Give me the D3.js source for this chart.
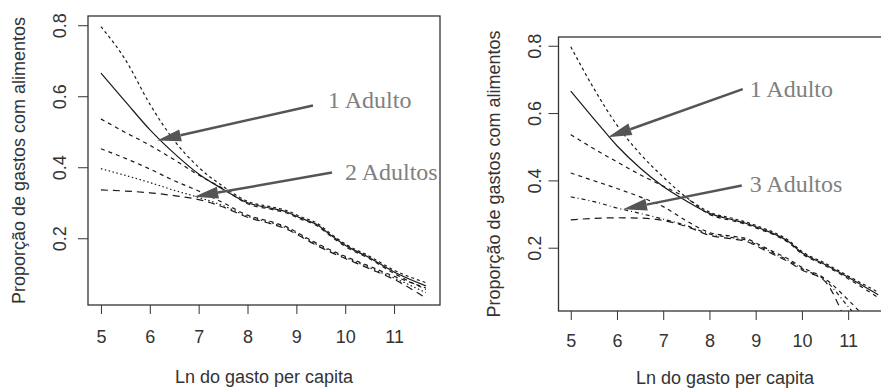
<!DOCTYPE html>
<html>
<head>
<meta charset="utf-8">
<script src="https://cdn.jsdelivr.net/npm/d3@7"></script>
<style>
  body { margin: 0; background: #fff; }
  svg { display: block; }
</style>
</head>
<body>
<div id="chart"></div>
<script>
// eixo x comum (ln do gasto per capita)
const xGrid = [5, 5.5, 6, 6.5, 7, 7.5, 8, 8.5, 8.8, 9.1, 9.4, 9.7, 10, 10.5, 11, 11.65];
const xTicks = [5, 6, 7, 8, 9, 10, 11];
const yTicks = [0.2, 0.4, 0.6, 0.8];

// painel esquerdo: 1 adulto vs 2 adultos
const oneAdultUpperL = [0.796, 0.703, 0.578, 0.475, 0.400, 0.346, 0.304, 0.288, 0.278, 0.260, 0.244, 0.213, 0.184, 0.149, 0.110, 0.075];
const oneAdultL      = [0.665, 0.585, 0.506, 0.439, 0.381, 0.338, 0.300, 0.284, 0.274, 0.256, 0.240, 0.209, 0.180, 0.145, 0.105, 0.066];
const oneAdultLowerL = [0.536, 0.498, 0.462, 0.421, 0.378, 0.340, 0.297, 0.281, 0.271, 0.253, 0.237, 0.206, 0.177, 0.142, 0.101, 0.056];
const twoAdultsUpper = [0.452, 0.425, 0.395, 0.362, 0.333, 0.300, 0.265, 0.246, 0.232, 0.210, 0.187, 0.167, 0.149, 0.121, 0.093, 0.060];
const twoAdults      = [0.396, 0.377, 0.357, 0.335, 0.315, 0.292, 0.262, 0.243, 0.229, 0.207, 0.184, 0.164, 0.146, 0.117, 0.088, 0.047];
const twoAdultsLower = [0.336, 0.333, 0.328, 0.320, 0.309, 0.288, 0.259, 0.240, 0.226, 0.204, 0.181, 0.161, 0.143, 0.114, 0.084, 0.032];

// painel direito: 1 adulto vs 3 adultos
const oneAdultUpperR = [0.797, 0.673, 0.564, 0.479, 0.410, 0.350, 0.306, 0.287, 0.276, 0.261, 0.245, 0.223, 0.189, 0.154, 0.116, 0.068];
const oneAdultR      = [0.665, 0.583, 0.503, 0.437, 0.382, 0.339, 0.302, 0.283, 0.272, 0.257, 0.241, 0.219, 0.185, 0.150, 0.112, 0.060];
const oneAdultLowerR = [0.536, 0.494, 0.455, 0.417, 0.383, 0.348, 0.299, 0.280, 0.269, 0.254, 0.238, 0.216, 0.182, 0.147, 0.108, 0.052];
const threeAdultsUpper = [0.422, 0.399, 0.376, 0.351, 0.322, 0.280, 0.245, 0.234, 0.227, 0.207, 0.187, 0.167, 0.142, 0.108, 0.045, -0.050];
const threeAdults      = [0.351, 0.337, 0.318, 0.302, 0.285, 0.266, 0.241, 0.230, 0.223, 0.203, 0.183, 0.163, 0.138, 0.104, 0.025, -0.080];
const threeAdultsLower = [0.283, 0.287, 0.289, 0.288, 0.281, 0.263, 0.237, 0.226, 0.219, 0.199, 0.179, 0.159, 0.134, 0.100, -0.030, -0.200];

// rotulos das setas: [x e y do texto, x e y da cauda, x e y da ponta]
const labelsL = ["1 Adulto", "2 Adultos"];
const labelPosL = [[9.65, 0.567, 9.34, 0.574, 6.15, 0.475], [9.995, 0.365, 9.73, 0.385, 6.91, 0.317]];
const labelsR = ["1 Adulto", "3 Adultos"];
const labelPosR = [[8.87, 0.649, 8.72, 0.671, 5.80, 0.528], [8.87, 0.365, 8.70, 0.385, 6.13, 0.314]];

const width = 881, height = 388;
const svg = d3.select('#chart').append('svg')
    .attr('width', width)
    .attr('height', height)
    .style('background', '#fff');

const sans = 'Liberation Sans, Arial, Helvetica, sans-serif';
const serif = 'Liberation Serif, Times New Roman, serif';
const ink = '#1a1a1a';

const panels = [
  { id: 'l', left: 88, right: 440, top: 16, bottom: 305, xlabDy: 38.3, ylabDx: 22, xTitleY: 383, yTitleX: 25,
    series: [
      { values: oneAdultUpperL, dash: '3,3' },
      { values: oneAdultL, dash: null },
      { values: oneAdultLowerL, dash: '4,4' },
      { values: twoAdultsUpper, dash: '4,4' },
      { values: twoAdults, dash: '1.5,2.5' },
      { values: twoAdultsLower, dash: '7,5' }
    ],
    labels: labelsL, labelPos: labelPosL },
  { id: 'r', left: 558.5, right: 891.6, top: 37, bottom: 311, xlabDy: 35.7, ylabDx: 17.5, xTitleY: 383.5, yTitleX: 500,
    series: [
      { values: oneAdultUpperR, dash: '3,3' },
      { values: oneAdultR, dash: null },
      { values: oneAdultLowerR, dash: '4,4' },
      { values: threeAdultsUpper, dash: '4,4' },
      { values: threeAdults, dash: '4,3,1,3' },
      { values: threeAdultsLower, dash: '7,5' }
    ],
    labels: labelsR, labelPos: labelPosR }
];

panels.forEach(p => {
  const x = d3.scaleLinear().domain([4.735, 11.94]).range([p.left, p.right]);
  const y = d3.scaleLinear().domain([0.012, 0.826]).range([p.bottom, p.top]);
  const g = svg.append('g');

  g.append('clipPath').attr('id', 'clip-' + p.id)
    .append('rect')
      .attr('x', x.range()[0]).attr('y', y.range()[1])
      .attr('width', x.range()[1] - x.range()[0])
      .attr('height', y.range()[0] - y.range()[1]);

  const line = d3.line()
      .x((d, i) => x(xGrid[i]))
      .y(d => y(d))
      .curve(d3.curveMonotoneX);

  g.append('g').attr('clip-path', `url(#clip-${p.id})`)
    .selectAll('path')
    .data(p.series)
    .enter()
    .append('path')
      .attr('d', d => line(d.values))
      .attr('fill', 'none')
      .attr('stroke', ink)
      .attr('stroke-width', 1.2)
      .attr('stroke-dasharray', d => d.dash);

  // eixo x
  const xAxis = g.append('g')
      .attr('transform', `translate(0, ${p.bottom})`)
      .call(d3.axisBottom(x).tickValues(xTicks).tickSize(9).tickFormat(d3.format('d')));
  xAxis.select('.domain').remove();
  xAxis.selectAll('line').attr('stroke', '#333');
  xAxis.selectAll('text')
      .attr('y', p.xlabDy).attr('dy', 0)
      .style('font-family', sans).style('font-size', '18px').attr('fill', '#333');

  // eixo y (rotulos girados, como no R)
  const yAxis = g.append('g')
      .attr('transform', `translate(${p.left}, 0)`)
      .call(d3.axisLeft(y).tickValues(yTicks).tickSize(10).tickFormat(d3.format('.1f')));
  yAxis.select('.domain').remove();
  yAxis.selectAll('line').attr('stroke', '#333');
  yAxis.selectAll('text')
      .attr('transform', 'rotate(-90)')
      .attr('x', 0).attr('y', -p.ylabDx).attr('dy', 0)
      .attr('text-anchor', 'middle')
      .style('font-family', sans).style('font-size', '18px').attr('fill', '#333');

  // caixa
  g.append('rect')
      .attr('x', x.range()[0]).attr('y', y.range()[1])
      .attr('width', x.range()[1] - x.range()[0])
      .attr('height', y.range()[0] - y.range()[1])
      .attr('fill', 'none')
      .attr('stroke', '#333')
      .attr('stroke-width', 1.3);

  // titulos
  g.append('text')
      .attr('x', (p.left + p.right) / 2).attr('y', p.xTitleY)
      .attr('text-anchor', 'middle')
      .style('font-family', sans).style('font-size', '18px').attr('fill', '#333')
      .text('Ln do gasto per capita');
  g.append('text')
      .attr('transform', `translate(${p.yTitleX}, ${(p.top + p.bottom) / 2}) rotate(-90)`)
      .attr('text-anchor', 'middle')
      .style('font-family', sans).style('font-size', '18px').attr('fill', '#333')
      .text('Proporção de gastos com alimentos');

  // setas
  p.labelPos.forEach((a, i) => {
    const tx = x(a[2]), ty = y(a[3]), hx = x(a[4]), hy = y(a[5]);
    const ang = Math.atan2(ty - hy, tx - hx);
    const len = 24, hw = 6;
    const bx = hx + len * Math.cos(ang), by = hy + len * Math.sin(ang);
    g.append('line')
        .attr('x1', tx).attr('y1', ty).attr('x2', bx).attr('y2', by)
        .attr('stroke', '#555').attr('stroke-width', 2.5);
    g.append('path')
        .attr('d', `M${hx},${hy}L${bx - hw * Math.sin(ang)},${by + hw * Math.cos(ang)}L${bx + hw * Math.sin(ang)},${by - hw * Math.cos(ang)}Z`)
        .attr('fill', '#555');
    g.append('text')
        .attr('x', x(a[0])).attr('y', y(a[1]))
        .style('font-family', serif).style('font-size', '24px').attr('fill', '#808080')
        .text(p.labels[i]);
  });
});
</script>
</body>
</html>
